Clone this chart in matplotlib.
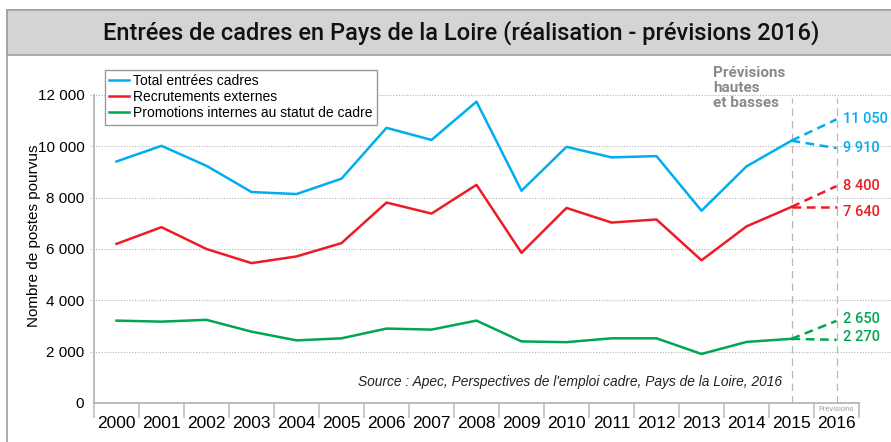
import numpy as np
import matplotlib
matplotlib.use('Agg')
import matplotlib.pyplot as plt
from matplotlib.patches import Rectangle

# Données
annees = list(range(2000, 2016))
total = [9410, 10020, 9240, 8220, 8140, 8740, 10720, 10250, 11740, 8270,
         9980, 9570, 9620, 7490, 9220, 10220]
externes = [6200, 6850, 6000, 5450, 5710, 6230, 7810, 7380, 8500, 5850,
            7600, 7030, 7150, 5560, 6880, 7640]
internes = [3210, 3170, 3240, 2780, 2440, 2520, 2900, 2860, 3210, 2400,
            2370, 2520, 2520, 1910, 2380, 2500]

# Prévisions 2016 (haute, basse) telles que tracées, et libellés affichés
prev_total = [11050, 9930]
prev_externes = [8450, 7640]
prev_internes = [3200, 2460]
lib_total = ['11 050', '9 910']
lib_externes = ['8 400', '7 640']
lib_internes = ['2 650', '2 270']

noms = ['Total entrées cadres', 'Recrutements externes',
        'Promotions internes au statut de cadre']
couleurs = ['#00aeef', '#ed1c24', '#00a651']

yticks = [0, 2000, 4000, 6000, 8000, 10000, 12000]
ytick_labels = ['0', '2 000', '4 000', '6 000', '8 000', '10 000', '12 000']

plt.rcParams['font.family'] = ['Liberation Sans', 'DejaVu Sans']
narrow = ['Roboto', 'Liberation Sans', 'DejaVu Sans']

W, H = 891, 442
fig = plt.figure(figsize=(W / 100, H / 100), dpi=100)

# Cadre et bandeau de titre
fig.patches.append(Rectangle((7 / W, -0.05), 1.0, 1 - 10 / H + 0.05,
                             transform=fig.transFigure, facecolor='none',
                             edgecolor='#a0a0a0', linewidth=1.2))
fig.patches.append(Rectangle((7 / W, 1 - 55 / H), 1.0, 45 / H,
                             transform=fig.transFigure, facecolor='#d3d4d5',
                             edgecolor='#a0a0a0', linewidth=1.2))
fig.text(461 / W, 1 - 33 / H,
         'Entrées de cadres en Pays de la Loire (réalisation - prévisions 2016)',
         ha='center', va='center', fontsize=17, family=narrow, fontweight='medium',
         color='#111111')

# Axes : 1999.5 -> x=94 px, 45 px par an ; 0 -> y=403, 12000 -> y=95
x0 = 1999.5
xmax = x0 + (W - 94) / 45
ax = fig.add_axes([94 / W, (H - 403) / H, (W - 94) / W, (403 - 95) / H])
ax.set_xlim(x0, xmax)
ax.set_ylim(0, 12000)

for v in yticks[1:]:
    ax.plot([x0 - 0.1, xmax], [v, v], color='#b5b5b5', linestyle=(0, (1, 1.5)),
            linewidth=0.8, clip_on=False, zorder=1)

for s in ['top', 'right']:
    ax.spines[s].set_visible(False)
ax.spines['left'].set_color('#b0b0b0')
ax.spines['bottom'].set_color('#b0b0b0')
ax.spines['bottom'].set_bounds(x0, 2016.5)
ax.spines['left'].set_linewidth(1.2)
ax.spines['bottom'].set_linewidth(1.2)

ax.set_yticks(yticks)
ax.set_yticklabels(ytick_labels, fontsize=11)
ax.tick_params(axis='y', length=0, pad=7)

ax.set_xticks(annees + [2016])
ax.set_xticklabels([str(a) for a in annees + [2016]], fontsize=12.5)
ax.set_xticks(np.arange(x0, 2017, 1.0), minor=True)
ax.tick_params(axis='x', which='major', length=0, pad=9)
ax.tick_params(axis='x', which='minor', length=11, color='#c0c0c0', width=1.2)

ax.set_ylabel('Nombre de postes pourvus', fontsize=11)
ax.yaxis.set_label_coords(-0.066, 0.542)

# Lignes verticales 2015 / 2016
for xv in [2015, 2016]:
    ax.plot([xv, xv], [0, 11900], color='#b8b8b8', linestyle=(0, (6, 4)),
            linewidth=0.9, zorder=1)

series = [total, externes, internes]
prevs = [prev_total, prev_externes, prev_internes]
libs = [lib_total, lib_externes, lib_internes]
decal = [[0, 0], [0, -180], [60, 130]]
handles = []
for serie, prev, lib, c, nom, d in zip(series, prevs, libs, couleurs, noms, decal):
    h, = ax.plot(annees, serie, color=c, linewidth=1.8, label=nom, zorder=3)
    handles.append(h)
    for p, t, dd in zip(prev, lib, d):
        ax.plot([2015, 2016], [serie[-1], p], color=c, linewidth=1.8,
                linestyle=(0, (3.5, 2.2)), zorder=3, clip_on=False)
        ax.text(2016.14, p + dd, t, color=c, fontsize=10.5, family=narrow,
                fontweight='medium', ha='left', va='center', clip_on=False)

fig.legend(handles=handles, loc='upper left',
           bbox_to_anchor=(105 / W, 1 - 70 / H), borderaxespad=0,
           fontsize=10, frameon=True, fancybox=False, edgecolor='#9a9a9a',
           handlelength=1.45, handletextpad=0.3, labelspacing=0.15,
           borderpad=0.3, framealpha=1)

fig.text(713 / W, 1 - 66 / H, 'Prévisions\nhautes\net basses', ha='left', va='top',
         fontsize=11, family=narrow, fontweight='bold', color='#8a8a8a',
         linespacing=1.08)

ax.text(2016.0, -250, 'Prévisions', fontsize=5.5, color='#a0a0a0', ha='center',
        va='center', family=narrow)
ax.plot([2016.5, 2016.5], [0, -440], color='#c0c0c0', linewidth=1.2, clip_on=False)

ax.text(2015 - 0.2, 820,
        "Source : Apec, Perspectives de l'emploi cadre, Pays de la Loire, 2016",
        fontsize=9.9, style='italic', ha='right', va='center', color='#222222')

fig.savefig('out.png', dpi=100)
